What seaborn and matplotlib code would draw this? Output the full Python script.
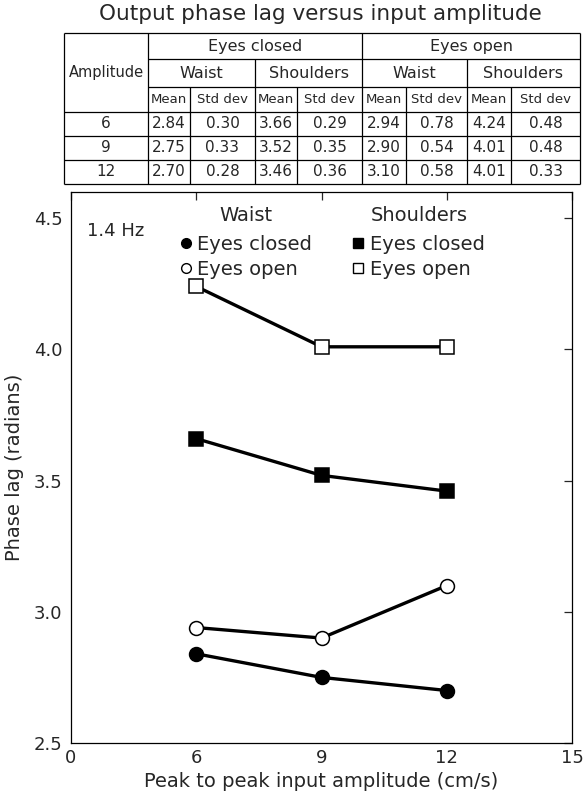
import numpy as np
import pandas as pd
import matplotlib
matplotlib.use('Agg')
import matplotlib.pyplot as plt
import seaborn as sns
from matplotlib.lines import Line2D

# data (from the table in the figure)
amplitude = [6, 9, 12]
waist_closed_mean = [2.84, 2.75, 2.70]
waist_closed_sd = [0.30, 0.33, 0.28]
shoulders_closed_mean = [3.66, 3.52, 3.46]
shoulders_closed_sd = [0.29, 0.35, 0.36]
waist_open_mean = [2.94, 2.90, 3.10]
waist_open_sd = [0.78, 0.54, 0.58]
shoulders_open_mean = [4.24, 4.01, 4.01]
shoulders_open_sd = [0.48, 0.48, 0.33]

x_ticks = [0, 6, 9, 12, 15]
y_ticks = [2.5, 3.0, 3.5, 4.0, 4.5]

sns.set_style('white')
plt.rcParams['font.family'] = ['DejaVu Sans']
plt.rcParams['xtick.direction'] = 'in'
plt.rcParams['ytick.direction'] = 'in'
plt.rcParams['xtick.major.size'] = 6
plt.rcParams['ytick.major.size'] = 6
plt.rcParams['xtick.major.width'] = 0.9
plt.rcParams['ytick.major.width'] = 0.9

W, H = 584, 799
fig = plt.figure(figsize=(W / 100, H / 100), dpi=100)


def px(x0, y0, x1, y1):
    return [x0 / W, 1 - y1 / H, (x1 - x0) / W, (y1 - y0) / H]


ax = fig.add_axes(px(71, 192, 572, 743))

series = [
    (waist_closed_mean, 'o', 'black'),
    (waist_open_mean, 'o', 'white'),
    (shoulders_closed_mean, 's', 'black'),
    (shoulders_open_mean, 's', 'white'),
]
for vals, mk, fc in series:
    df = pd.DataFrame({'amp': amplitude, 'lag': vals})
    sns.lineplot(data=df, x='amp', y='lag', ax=ax, color='black', lw=2.4,
                 marker=mk, markersize=10, markerfacecolor=fc,
                 markeredgecolor='black', markeredgewidth=1.1)


# 0 sits one tick step left of 6 (broken axis)
def fwd(x):
    x = np.asarray(x, dtype=float)
    return np.where(x < 6, 3 + x / 2, x)


def inv(y):
    y = np.asarray(y, dtype=float)
    return np.where(y < 6, (y - 3) * 2, y)


ax.set_xscale('function', functions=(fwd, inv))
ax.set_xlim(0, 15)
ax.set_ylim(2.5, 4.6)
ax.set_xticks(x_ticks, [str(t) for t in x_ticks], fontsize=13)
ax.set_yticks(y_ticks, ['%.1f' % t for t in y_ticks], fontsize=13)
ax.tick_params(top=True, right=True, pad=6)
ax.tick_params(axis='x', pad=4)
for s in ax.spines.values():
    s.set_linewidth(0.9)
    s.set_color('black')
ax.set_xlabel('Peak to peak input amplitude (cm/s)', fontsize=14, labelpad=4)
ax.set_ylabel('Phase lag (radians)', fontsize=14, labelpad=7)

ax.text(0.032, 0.93, '1.4 Hz', transform=ax.transAxes, fontsize=13, va='center')


def handle(mk, fc):
    return Line2D([], [], ls='none', marker=mk, ms=7, mfc=fc, mec='black', mew=1)


leg_kw = dict(frameon=False, fontsize=14, title_fontsize=14, handlelength=0.6,
              handletextpad=0.3, labelspacing=0.3, borderpad=0.2, loc='upper left')
leg1 = ax.legend([handle('o', 'black'), handle('o', 'white')], ['Eyes closed', 'Eyes open'],
                 title='Waist', bbox_to_anchor=(0.19, 0.999), **leg_kw)
leg1._legend_box.sep = 7
ax.add_artist(leg1)
leg2 = ax.legend([handle('s', 'black'), handle('s', 'white')], ['Eyes closed', 'Eyes open'],
                 title='Shoulders', bbox_to_anchor=(0.535, 0.999), **leg_kw)
leg2._legend_box.sep = 7

# table above the plot
fig.text(320 / W, 1 - 14 / H, 'Output phase lag versus input amplitude',
         fontsize=15.5, ha='center', va='center')

tab = fig.add_axes([0, 0, 1, 1])
tab.set_xlim(0, W)
tab.set_ylim(H, 0)
tab.axis('off')
tab.patch.set_alpha(0)

cols = [64, 148, 190, 255, 297, 362, 406, 467, 511, 580]
rows = [33, 59, 87, 112, 136, 160, 184]
lw = 0.9
tab.hlines([rows[0], rows[3], rows[4], rows[5], rows[6]], cols[0], cols[-1], color='black', lw=lw)
tab.hlines([rows[1], rows[2]], cols[1], cols[-1], color='black', lw=lw)
tab.vlines([cols[0], cols[1], cols[5], cols[-1]], rows[0], rows[-1], color='black', lw=lw)
tab.vlines([cols[3], cols[7]], rows[1], rows[-1], color='black', lw=lw)
tab.vlines([cols[2], cols[4], cols[6], cols[8]], rows[2], rows[-1], color='black', lw=lw)

fs = 11
mid = lambda a, b: (a + b) / 2
tab.text(mid(cols[0], cols[1]), mid(rows[0], rows[3]), 'Amplitude', ha='center', va='center', fontsize=fs - 0.5)
tab.text(mid(cols[1], cols[5]), mid(rows[0], rows[1]), 'Eyes closed', ha='center', va='center', fontsize=fs + 0.5)
tab.text(mid(cols[5], cols[9]), mid(rows[0], rows[1]), 'Eyes open', ha='center', va='center', fontsize=fs + 0.5)
for i, name in enumerate(['Waist', 'Shoulders', 'Waist', 'Shoulders']):
    tab.text(mid(cols[1 + 2 * i], cols[3 + 2 * i]), mid(rows[1], rows[2]), name,
             ha='center', va='center', fontsize=fs + 0.5)
for j in range(8):
    tab.text(mid(cols[1 + j], cols[2 + j]), mid(rows[2], rows[3]), ['Mean', 'Std dev'][j % 2],
             ha='center', va='center', fontsize=fs - 1.5)

table_cols = [waist_closed_mean, waist_closed_sd, shoulders_closed_mean, shoulders_closed_sd,
              waist_open_mean, waist_open_sd, shoulders_open_mean, shoulders_open_sd]
for r, amp in enumerate(amplitude):
    yc = mid(rows[3 + r], rows[4 + r])
    tab.text(mid(cols[0], cols[1]), yc, str(amp), ha='center', va='center', fontsize=fs)
    for j, colv in enumerate(table_cols):
        tab.text(mid(cols[1 + j], cols[2 + j]), yc, '%.2f' % colv[r], ha='center', va='center', fontsize=fs)

fig.savefig('out.png', dpi=100)
